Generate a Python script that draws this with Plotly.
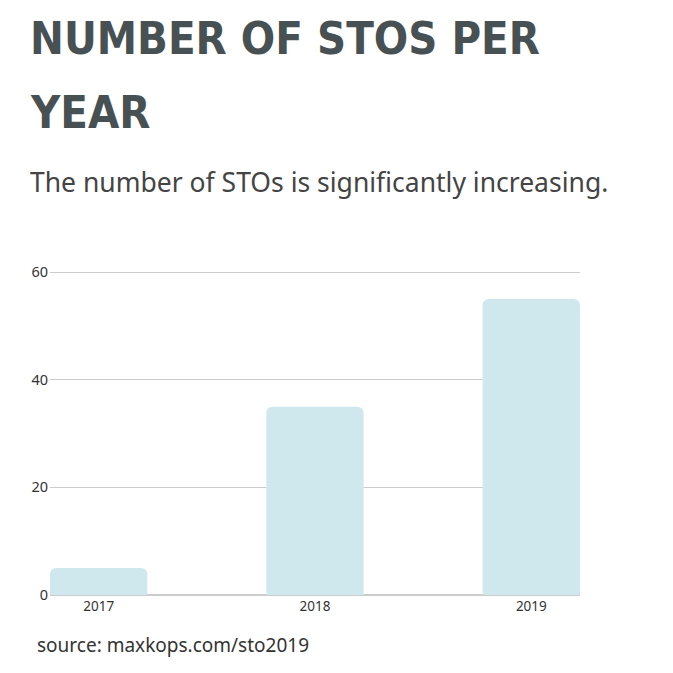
import plotly.graph_objects as go

years = ["2017", "2018", "2019"]
stos = [5, 35, 55]
y_ticks = [0, 20, 40, 60]
title_lines = ["NUMBER OF STOS PER", "YEAR"]

W, H = 673, 673
L, R, T, B = 50, 93, 270, 78
pw, ph = W - L - R, H - T - B

def px(x):
    return (x - L) / pw

def py(y):
    return (H - B - y) / ph

fig = go.Figure(go.Bar(
    x=years, y=stos, width=0.45,
    marker=dict(color="#cfe8ed", cornerradius=6, line=dict(width=0)),
    hoverinfo="skip",
))

title_font = dict(family="DejaVu Sans Condensed, sans-serif", size=45, color="#475052", weight="bold")

fig.update_layout(
    width=W, height=H, margin=dict(l=L, r=R, t=T, b=B, pad=0),
    paper_bgcolor="white", plot_bgcolor="white", showlegend=False,
    font=dict(family="Noto Sans, sans-serif", color="#333333"),
    xaxis=dict(range=[-0.225, 2.225], showgrid=False, showline=False, zeroline=False,
               ticks="", tickfont=dict(size=13.5, color="#333333"), ticklabelstandoff=1),
    yaxis=dict(range=[0, 60.4], tickvals=y_ticks, showgrid=True, gridcolor="#cccccc",
               gridwidth=1, zeroline=True, zerolinecolor="#cccccc", showline=False,
               ticks="", tickfont=dict(size=14.5, color="#333333"), ticklabelstandoff=1),
    annotations=[
        dict(text=title_lines[0], x=px(28), y=py(39), xref="paper", yref="paper",
             xanchor="left", yanchor="middle", align="left", showarrow=False, font=title_font),
        dict(text=title_lines[1], x=px(28), y=py(112), xref="paper", yref="paper",
             xanchor="left", yanchor="middle", align="left", showarrow=False, font=title_font),
        dict(text="The number of STOs is significantly increasing.", x=px(28), y=py(182),
             xref="paper", yref="paper", xanchor="left", yanchor="middle", showarrow=False,
             font=dict(family="Noto Sans, sans-serif", size=26.5, color="#444444")),
        dict(text="source: maxkops.com/sto2019", x=px(35), y=py(645),
             xref="paper", yref="paper", xanchor="left", yanchor="middle", showarrow=False,
             font=dict(family="Noto Sans, sans-serif", size=19, color="#333333")),
    ],
)

fig.write_html("out.html")
